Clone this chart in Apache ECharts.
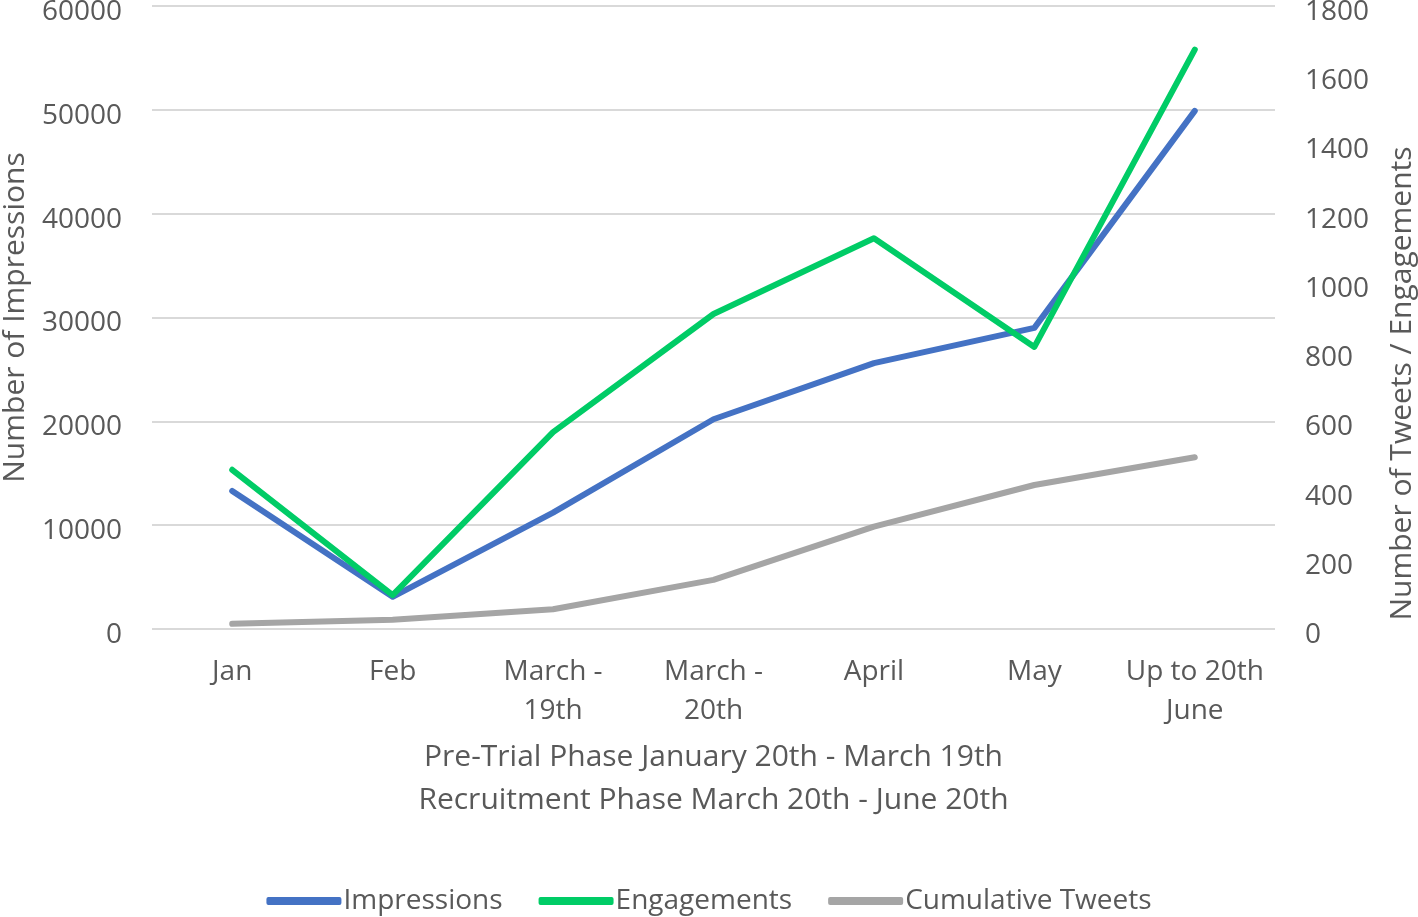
<!DOCTYPE html>
<html>
<head>
<meta charset="utf-8">
<script src="https://cdn.jsdelivr.net/npm/echarts@6/dist/echarts.min.js"></script>
<style>
html,body{margin:0;padding:0;background:#fff;}
#chart{width:1418px;height:917px;}
</style>
</head>
<body>
<div id="chart"></div>
<script>
const categories = ['Jan', 'Feb', 'March -\n19th', 'March -\n20th', 'April', 'May', 'Up to 20th\nJune'];
const impressions = [13300, 3100, 11200, 20200, 25600, 29000, 49900];
const engagements = [460, 98, 569, 910, 1129, 815, 1674];
const cumulativeTweets = [15, 27, 57, 142, 296, 416, 496];
const leftTicks = {min: 0, max: 60000, interval: 10000};
const rightTicks = {min: 0, max: 1800, interval: 200};
const xTitle = 'Pre-Trial Phase January 20th - March 19th\nRecruitment Phase March 20th - June 20th';

const FONT = 'Open Sans';
const TXT = '#595959';
const chart = echarts.init(document.getElementById('chart'));
chart.setOption({
  animation: false,
  textStyle: {fontFamily: FONT, color: TXT},
  grid: {left: 152, right: 143, top: 6, bottom: 288, containLabel: false, outerBoundsMode: 'none'},
  legend: {
    top: 882,
    left: 'center',
    itemWidth: 75,
    itemHeight: 8,
    itemGap: 36,
    icon: 'roundRect',
    textStyle: {fontFamily: FONT, fontSize: 28, color: TXT, padding: [0, 0, 0, -3]},
    data: ['Impressions', 'Engagements', 'Cumulative Tweets']
  },
  xAxis: {
    type: 'category',
    data: categories,
    boundaryGap: true,
    axisLine: {show: false},
    axisTick: {show: false},
    axisLabel: {fontSize: 28, color: TXT, lineHeight: 39, margin: 24, interval: 0},
    name: xTitle,
    nameLocation: 'middle',
    nameGap: 107,
    nameTextStyle: {fontSize: 30, color: TXT, lineHeight: 43}
  },
  yAxis: [
    {
      type: 'value',
      min: leftTicks.min, max: leftTicks.max, interval: leftTicks.interval,
      axisLine: {show: false},
      axisTick: {show: false},
      axisLabel: {fontSize: 28, color: TXT, margin: 30, verticalAlign: 'top', lineHeight: 12, formatter: v => String(v)},
      splitLine: {lineStyle: {color: '#d9d9d9', width: 2}},
      name: 'Number of Impressions',
      nameLocation: 'middle',
      nameGap: 122,
      nameTextStyle: {fontSize: 30, color: TXT}
    },
    {
      type: 'value',
      position: 'right',
      min: rightTicks.min, max: rightTicks.max, interval: rightTicks.interval,
      axisLine: {show: false},
      axisTick: {show: false},
      axisLabel: {fontSize: 28, color: TXT, margin: 30, verticalAlign: 'top', lineHeight: 12, formatter: v => String(v)},
      splitLine: {show: false},
      name: 'Number of Tweets / Engagements',
      nameLocation: 'middle',
      nameGap: 112,
      nameRotate: 90,
      nameTextStyle: {fontSize: 30, color: TXT, padding: [0, 132, 0, 0]}
    }
  ],
  series: [
    {
      name: 'Impressions', type: 'line', yAxisIndex: 0, data: impressions,
      symbol: 'none', color: '#4472C4',
      lineStyle: {width: 6, cap: 'round', join: 'round', color: '#4472C4'}
    },
    {
      name: 'Engagements', type: 'line', yAxisIndex: 1, data: engagements,
      symbol: 'none', color: '#00CC66',
      lineStyle: {width: 6, cap: 'round', join: 'round', color: '#00CC66'}
    },
    {
      name: 'Cumulative Tweets', type: 'line', yAxisIndex: 1, data: cumulativeTweets,
      symbol: 'none', color: '#A5A5A5',
      lineStyle: {width: 6, cap: 'round', join: 'round', color: '#A5A5A5'}
    }
  ]
});
</script>
</body>
</html>
